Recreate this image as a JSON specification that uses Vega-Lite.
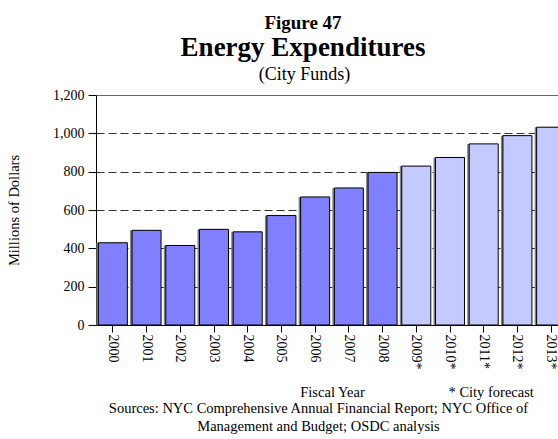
{
  "$schema": "https://vega.github.io/schema/vega-lite/v6.json",
  "autosize": {"type": "none"},
  "padding": {"left": 96, "top": 95, "right": 0, "bottom": 114},
  "width": 462,
  "height": 230,
  "background": "white",
  "title": {
    "text": "Figure 47",
    "subtitle": "Energy Expenditures",
    "font": "Liberation Serif",
    "fontSize": 19,
    "fontWeight": "bold",
    "color": "black",
    "subtitleFont": "Liberation Serif",
    "subtitleFontSize": 27,
    "subtitleFontWeight": "bold",
    "subtitleColor": "black",
    "subtitlePadding": 2,
    "anchor": "middle",
    "frame": "group",
    "dx": -24,
    "offset": 4
  },
  "data": {
    "values": [
      {"year": "2000", "value": 429, "type": "actual"},
      {"year": "2001", "value": 494, "type": "actual"},
      {"year": "2002", "value": 415, "type": "actual"},
      {"year": "2003", "value": 499, "type": "actual"},
      {"year": "2004", "value": 486, "type": "actual"},
      {"year": "2005", "value": 571, "type": "actual"},
      {"year": "2006", "value": 668, "type": "actual"},
      {"year": "2007", "value": 715, "type": "actual"},
      {"year": "2008", "value": 796, "type": "actual"},
      {"year": "2009*", "value": 829, "type": "forecast"},
      {"year": "2010*", "value": 874, "type": "forecast"},
      {"year": "2011*", "value": 945, "type": "forecast"},
      {"year": "2012*", "value": 988, "type": "forecast"},
      {"year": "2013*", "value": 1032, "type": "forecast"}
    ]
  },
  "layer": [
    {
      "mark": {"type": "bar", "color": "#808080", "xOffset": -2},
      "encoding": {
        "x": {
          "field": "year", "type": "nominal", "sort": null,
          "scale": {"range": [0, 472], "paddingInner": 0.14, "paddingOuter": 0.07},
          "axis": {
            "orient": "bottom",
            "title": "Fiscal Year",
            "labelAngle": 90,
            "labelAlign": "left",
            "labelBaseline": "middle",
            "labelPadding": 2,
            "tickSize": 7,
            "domain": true,
            "ticks": true,
            "grid": false,
            "titleX": 236,
            "titleY": 71,
            "titleAnchor": null,
            "titleAlign": "center",
            "titleBaseline": "alphabetic"
          }
        },
        "y": {
          "field": "value", "type": "quantitative",
          "title": "Millions of Dollars",
          "scale": {"domain": [0, 1200], "nice": false},
          "axis": {
            "values": [0, 200, 400, 600, 800, 1000, 1200],
            "format": ",d",
            "grid": true,
            "gridColor": "#333333",
            "gridDash": {"condition": {"test": "datum.value == 1200", "value": [1, 0]}, "value": [8, 4]},
            "gridWidth": 1,
            "tickSize": 8,
            "labelPadding": 4,
            "titlePadding": 31
          }
        }
      }
    },
    {
      "mark": {"type": "bar", "stroke": "black", "strokeWidth": 1},
      "encoding": {
        "x": {
          "field": "year", "type": "nominal", "sort": null,
          "axis": {
            "orient": "top",
            "title": "(City Funds)",
            "titleFontSize": 18,
            "labels": false,
            "ticks": false,
            "domain": false,
            "grid": false,
            "titleX": 208,
            "titleY": -16,
            "titleAnchor": null,
            "titleAlign": "center",
            "titleBaseline": "alphabetic"
          }
        },
        "y": {
          "field": "value", "type": "quantitative",
          "title": "Millions of Dollars",
          "axis": {
            "values": [0, 200, 400, 600, 800, 1000, 1200],
            "format": ",d",
            "grid": true,
            "gridColor": "#333333",
            "gridDash": {"condition": {"test": "datum.value == 1200", "value": [1, 0]}, "value": [8, 4]},
            "gridWidth": 1,
            "tickSize": 8,
            "labelPadding": 4,
            "titlePadding": 31
          }
        },
        "color": {
          "field": "type", "type": "nominal",
          "scale": {"domain": ["actual", "forecast"], "range": ["#8080ff", "#c4caff"]},
          "legend": null
        }
      }
    },
    {
      "mark": {"type": "bar", "opacity": 0},
      "encoding": {
        "x": {
          "field": "year", "type": "nominal", "sort": null,
          "axis": {
            "orient": "bottom",
            "title": "* City forecast",
            "labels": false,
            "ticks": false,
            "domain": false,
            "grid": false,
            "titleX": 352,
            "titleY": 71,
            "titleAnchor": null,
            "titleAlign": "left",
            "titleBaseline": "alphabetic"
          }
        },
        "y": {
          "field": "value", "type": "quantitative",
          "title": "Millions of Dollars",
          "axis": {
            "values": [0, 200, 400, 600, 800, 1000, 1200],
            "format": ",d",
            "grid": true,
            "gridColor": "#333333",
            "gridDash": {"condition": {"test": "datum.value == 1200", "value": [1, 0]}, "value": [8, 4]},
            "gridWidth": 1,
            "tickSize": 8,
            "labelPadding": 4,
            "titlePadding": 31
          }
        }
      }
    },
    {
      "mark": {"type": "bar", "opacity": 0},
      "encoding": {
        "x": {
          "field": "year", "type": "nominal", "sort": null,
          "axis": {
            "orient": "bottom",
            "title": ["Sources: NYC Comprehensive Annual Financial Report; NYC Office of", "Management and Budget; OSDC analysis"],
            "labels": false,
            "ticks": false,
            "domain": false,
            "grid": false,
            "titleX": 222,
            "titleY": 87,
            "titleLineHeight": 18,
            "titleAnchor": null,
            "titleAlign": "center",
            "titleBaseline": "alphabetic"
          }
        },
        "y": {
          "field": "value", "type": "quantitative",
          "title": "Millions of Dollars",
          "axis": {
            "values": [0, 200, 400, 600, 800, 1000, 1200],
            "format": ",d",
            "grid": true,
            "gridColor": "#333333",
            "gridDash": {"condition": {"test": "datum.value == 1200", "value": [1, 0]}, "value": [8, 4]},
            "gridWidth": 1,
            "tickSize": 8,
            "labelPadding": 4,
            "titlePadding": 31
          }
        }
      }
    }
  ],
  "resolve": {"axis": {"x": "independent"}},
  "config": {
    "view": {"stroke": null},
    "font": "Liberation Serif",
    "axis": {
      "labelFont": "Liberation Serif",
      "titleFont": "Liberation Serif",
      "labelFontSize": 14,
      "titleFontSize": 14.5,
      "titleFontWeight": "normal",
      "labelColor": "black",
      "titleColor": "black",
      "domainColor": "black",
      "tickColor": "black",
      "labelOverlap": false
    }
  }
}
